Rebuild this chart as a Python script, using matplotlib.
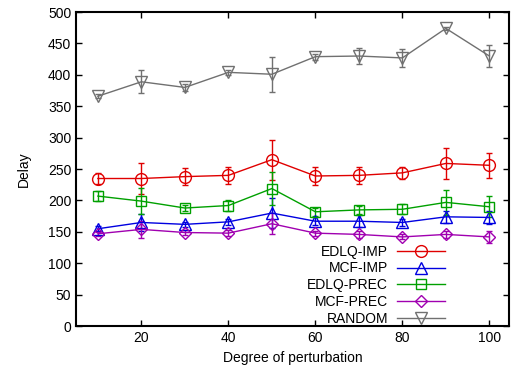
import matplotlib
matplotlib.use("Agg")
from matplotlib import pyplot as plt
from matplotlib.lines import Line2D

plt.rcParams['font.family'] = ['Liberation Sans', 'DejaVu Sans']
plt.rcParams['font.size'] = 10

perturbation = [10, 20, 30, 40, 50, 60, 70, 80, 90, 100]

edlq_imp = [235, 235, 238, 240, 265, 239, 240, 244, 259, 256]
edlq_imp_err = [8, 24, 14, 13, 32, 14, 13, 9, 24, 20]

mcf_imp = [155, 165, 162, 166, 180, 167, 167, 165, 174, 173]
mcf_imp_err = [4, 13, 4, 5, 24, 6, 10, 5, 10, 10]

edlq_prec = [207, 199, 188, 192, 219, 182, 185, 186, 197, 190]
edlq_prec_err = [8, 21, 5, 9, 26, 6, 7, 8, 20, 17]

mcf_prec = [147, 154, 149, 148, 163, 148, 146, 142, 146, 142]
mcf_prec_err = [3, 14, 4, 5, 17, 4, 6, 4, 5, 9]

random_delay = [366, 389, 380, 404, 401, 429, 430, 427, 474, 430]
random_err = [3, 18, 5, 4, 28, 5, 12, 14, 3, 17]

series = [
    ('EDLQ-IMP', edlq_imp, edlq_imp_err, '#e00000', 'o', 8.5),
    ('MCF-IMP', mcf_imp, mcf_imp_err, '#0000e0', '^', 9),
    ('EDLQ-PREC', edlq_prec, edlq_prec_err, '#00a000', 's', 7.5),
    ('MCF-PREC', mcf_prec, mcf_prec_err, '#a000b0', 'D', 6),
    ('RANDOM', random_delay, random_err, '#707070', 'v', 9),
]

fig = plt.figure(figsize=(5.11, 3.77), dpi=100)
ax = fig.add_axes([0.149, 0.135, 0.847, 0.833])

handles = []
for label, vals, errs, color, marker, ms in series:
    ax.errorbar(perturbation, vals, yerr=errs, color=color, marker=marker,
                markersize=ms, markerfacecolor='none', markeredgecolor=color,
                markeredgewidth=1, linewidth=1, elinewidth=1, capsize=2)
    handles.append(Line2D([], [], color=color, marker=marker, markersize=ms,
                          markerfacecolor='none', markeredgewidth=1, linewidth=1))

ax.set_xlim(5, 104.5)
ax.set_ylim(0, 500)
ax.set_xticks([20, 40, 60, 80, 100])
ax.set_yticks(range(0, 501, 50))
ax.tick_params(direction='in', top=True, right=True, length=4, width=1)
for s in ax.spines.values():
    s.set_linewidth(1.5)

ax.set_xlabel('Degree of perturbation')
ax.set_ylabel('Delay', labelpad=12)

ax.legend(handles, [s[0] for s in series], loc='lower right',
          bbox_to_anchor=(0.875, -0.03), frameon=False, markerfirst=False,
          handlelength=3.5, labelspacing=0.2, handletextpad=0.6,
          borderpad=0.2)

fig.savefig('out.png', dpi=100)
